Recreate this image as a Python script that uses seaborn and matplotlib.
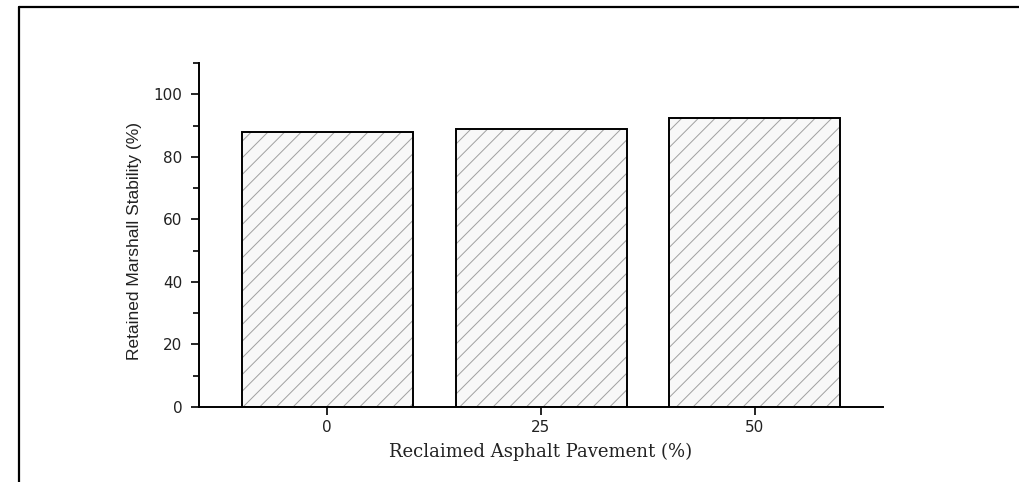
import matplotlib
matplotlib.use("Agg")
import matplotlib.pyplot as plt
import seaborn as sns
from matplotlib.lines import Line2D
from matplotlib.colors import to_rgba
from matplotlib.ticker import MultipleLocator

# ---- data ----
rap_content = ["0", "25", "50"]
retained_stability = [88.0, 89.0, 92.3]
y_ticks = [0, 20, 40, 60, 80, 100]
x_title = "Reclaimed Asphalt Pavement (%)"
y_title = "Retained Marshall Stability (%)"

sns.set_theme(style="white")
plt.rcParams["font.family"] = ["DejaVu Sans"]
plt.rcParams["hatch.linewidth"] = 0.7

fig = plt.figure(figsize=(10.19, 4.82), dpi=100)
ax = fig.add_axes([199 / 1019, 1 - 407 / 482, (883 - 199) / 1019, (407 - 63) / 482])

sns.barplot(x=rap_content, y=retained_stability, ax=ax, width=0.8,
            color="#f8f8f8", edgecolor="black", linewidth=1.4, saturation=1)
for p in ax.patches:
    p.set_hatch("//")
    p._hatch_color = to_rgba("#a0a0a0")

ax.set_xlim(-0.6, 2.6)
ax.set_ylim(0, 110)
ax.set_yticks(y_ticks)
ax.yaxis.set_minor_locator(MultipleLocator(10))

for s in ["top", "right"]:
    ax.spines[s].set_visible(False)
for s in ["left", "bottom"]:
    ax.spines[s].set_color("black")
    ax.spines[s].set_linewidth(1.4)

ax.tick_params(axis="both", which="major", direction="out", length=6, width=1.2,
               color="black", labelsize=11, labelcolor="#222222")
ax.tick_params(axis="y", which="minor", direction="out", length=4, width=1.2,
               color="black", left=True)
ax.tick_params(axis="x", pad=3)
ax.tick_params(axis="y", pad=6)
ax.tick_params(axis="both", which="both", bottom=True, left=True)

ax.set_xlabel(x_title, family=["DejaVu Serif"], fontsize=13, color="#222222", labelpad=6)
ax.set_ylabel(y_title, family=["Liberation Sans Narrow", "Liberation Sans"], fontsize=12.5,
              color="#222222")
ax.yaxis.set_label_coords((142 - 199) / 684, 0.483)

# outer frame (left and top edges visible)
fig.add_artist(Line2D([19 / 1019, 19 / 1019], [0, 1 - 7 / 482], transform=fig.transFigure,
                      color="black", linewidth=1.6))
fig.add_artist(Line2D([19 / 1019, 1], [1 - 7 / 482, 1 - 7 / 482], transform=fig.transFigure,
                      color="black", linewidth=1.6))

fig.savefig("out.png", dpi=100, facecolor="white")
